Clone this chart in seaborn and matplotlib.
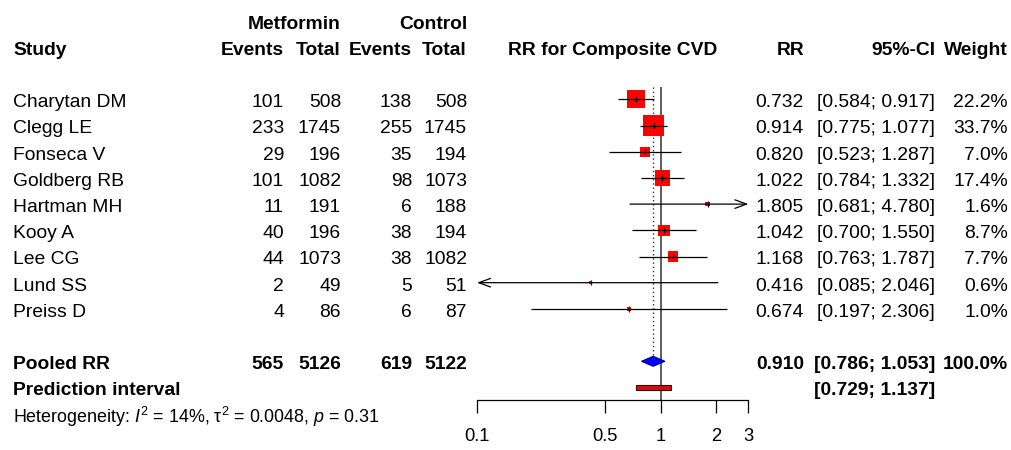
import matplotlib
matplotlib.use("Agg")
import matplotlib.pyplot as plt
from matplotlib.ticker import NullLocator
import seaborn as sns
import pandas as pd
import numpy as np

# ---------------- data ----------------
studies = ["Charytan DM", "Clegg LE", "Fonseca V", "Goldberg RB", "Hartman MH",
           "Kooy A", "Lee CG", "Lund SS", "Preiss D"]
met_events = [101, 233, 29, 101, 11, 40, 44, 2, 4]
met_total = [508, 1745, 196, 1082, 191, 196, 1073, 49, 86]
ctl_events = [138, 255, 35, 98, 6, 38, 38, 5, 6]
ctl_total = [508, 1745, 194, 1073, 188, 194, 1082, 51, 87]
rr = [0.732, 0.914, 0.820, 1.022, 1.805, 1.042, 1.168, 0.416, 0.674]
ci_low = [0.584, 0.775, 0.523, 0.784, 0.681, 0.700, 0.763, 0.085, 0.197]
ci_high = [0.917, 1.077, 1.287, 1.332, 4.780, 1.550, 1.787, 2.046, 2.306]
weight = [22.2, 33.7, 7.0, 17.4, 1.6, 8.7, 7.7, 0.6, 1.0]

pooled_met_events, pooled_met_total = 565, 5126
pooled_ctl_events, pooled_ctl_total = 619, 5122
pooled_rr, pooled_low, pooled_high = 0.910, 0.786, 1.053
pooled_weight = 100.0
pred_low, pred_high = 0.729, 1.137
het_text = r"Heterogeneity: $I^2$ = 14%, τ$^2$ = 0.0048, $p$ = 0.31"

xticks = [0.1, 0.5, 1, 2, 3]
xtick_labels = ["0.1", "0.5", "1", "2", "3"]
xlim = (0.1, 3)

df = pd.DataFrame(dict(study=studies, rr=rr, lo=ci_low, hi=ci_high, w=weight))
df["row"] = np.arange(len(df)) + 3

# ---------------- style ----------------
sns.set_style("white")
plt.rcParams["font.family"] = ["Liberation Sans", "DejaVu Sans"]
plt.rcParams["mathtext.fontset"] = "custom"
plt.rcParams["mathtext.rm"] = "Liberation Sans"
plt.rcParams["mathtext.it"] = "Liberation Sans:italic"
plt.rcParams["mathtext.bf"] = "Liberation Sans:bold"
plt.rcParams["text.color"] = "black"
plt.rcParams["xtick.color"] = "black"
plt.rcParams["axes.edgecolor"] = "black"

FS = 13.9
W, H = 1011, 450
ROW0_PX, ROW_PX = 20.7, 26.2


def k_of_px(p):
    return (p - ROW0_PX) / ROW_PX


fig = plt.figure(figsize=(W / 100, H / 100), dpi=100)
fig.patch.set_facecolor("white")

# text axes (whole figure, x in pixels, y in rows)
tx = fig.add_axes([0, 0, 1, 1])
tx.set_xlim(0, W)
tx.set_ylim(k_of_px(H), k_of_px(0))
tx.axis("off")

# forest axes
AX_PX = 400
fx = fig.add_axes([477 / W, (H - AX_PX) / H, 271.4 / W, AX_PX / H])
fx.set_xscale("log")
fx.set_xlim(*xlim)
fx.set_ylim(k_of_px(AX_PX), k_of_px(0))
fx.patch.set_alpha(0)
for s in ["top", "left", "right"]:
    fx.spines[s].set_visible(False)
fx.spines["bottom"].set_linewidth(0.9)
fx.spines["bottom"].set_color("black")
fx.set_yticks([])
fx.set_xticks(xticks)
fx.set_xticklabels(xtick_labels)
fx.xaxis.set_minor_locator(NullLocator())
fx.tick_params(axis="x", direction="out", length=9.1, width=0.9, pad=11,
               labelsize=13.2, bottom=True, colors="black")

OFF = 0.3  # baseline offset (rows)

# ---- headers ----
hb = dict(fontsize=FS, fontweight="bold", va="baseline", color="black")
tx.text(13, 1 + OFF, "Study", ha="left", **hb)
tx.text(341, 0 + OFF, "Metformin", ha="right", **hb)
tx.text(467, 0 + OFF, "Control", ha="right", **hb)
tx.text(284, 1 + OFF, "Events", ha="right", **hb)
tx.text(341, 1 + OFF, "Total", ha="right", **hb)
tx.text(412, 1 + OFF, "Events", ha="right", **hb)
tx.text(467, 1 + OFF, "Total", ha="right", **hb)
tx.text(804, 1 + OFF, "RR", ha="right", **hb)
tx.text(935, 1 + OFF, "95%-CI", ha="right", **hb)
tx.text(1008, 1 + OFF, "Weight", ha="right", **hb)
fx.text(np.sqrt(xlim[0] * xlim[1]), 1 + OFF, "RR for Composite CVD",
        ha="center", **hb)

# ---- study rows ----
nb = dict(fontsize=FS, va="baseline", color="black")
for i, r in df.iterrows():
    k = r["row"] + OFF
    tx.text(13, k, r["study"], ha="left", **nb)
    tx.text(284, k, f"{met_events[i]}", ha="right", **nb)
    tx.text(341, k, f"{met_total[i]}", ha="right", **nb)
    tx.text(412, k, f"{ctl_events[i]}", ha="right", **nb)
    tx.text(467, k, f"{ctl_total[i]}", ha="right", **nb)
    tx.text(804, k, f"{r['rr']:.3f}", ha="right", **nb)
    tx.text(935, k, f"[{r['lo']:.3f}; {r['hi']:.3f}]", ha="right", **nb)
    tx.text(1008, k, f"{r['w']:.1f}%", ha="right", **nb)

# ---- pooled rows ----
kp = 13
tx.text(13, kp + OFF, "Pooled RR", ha="left", **hb)
tx.text(284, kp + OFF, f"{pooled_met_events}", ha="right", **hb)
tx.text(341, kp + OFF, f"{pooled_met_total}", ha="right", **hb)
tx.text(412, kp + OFF, f"{pooled_ctl_events}", ha="right", **hb)
tx.text(467, kp + OFF, f"{pooled_ctl_total}", ha="right", **hb)
tx.text(804, kp + OFF, f"{pooled_rr:.3f}", ha="right", **hb)
tx.text(935, kp + OFF, f"[{pooled_low:.3f}; {pooled_high:.3f}]", ha="right", **hb)
tx.text(1008, kp + OFF, f"{pooled_weight:.1f}%", ha="right", **hb)
kq = 14
tx.text(13, kq + OFF, "Prediction interval", ha="left", **hb)
tx.text(935, kq + OFF, f"[{pred_low:.3f}; {pred_high:.3f}]", ha="right", **hb)
tx.text(13, 15.07 + OFF, het_text, ha="left", va="baseline", fontsize=12.9,
        color="black")

# ---- forest marks ----
ktop = k_of_px(86.7)
fx.vlines(1, ktop, k_of_px(AX_PX), color="#333333", lw=1.1, zorder=1)
fx.vlines(pooled_rr, ktop, kp - 0.19, color="#333333", lw=1.0,
          linestyles=(0, (1, 2)), zorder=1)

smax = (19.5 * 0.72 * 1.12) ** 2
sns.scatterplot(data=df, x="rr", y="row", size="w", sizes=(0, smax),
                size_norm=(0, max(weight)), marker="s", color="#FF0000",
                edgecolor="none", linewidth=0, legend=False, ax=fx, zorder=2)
fx.set_xlabel("")
fx.set_ylabel("")

for _, r in df.iterrows():
    k = r["row"]
    lo, hi = r["lo"], r["hi"]
    lo_c, hi_c = max(lo, xlim[0]), min(hi, xlim[1])
    if hi > xlim[1]:
        fx.annotate("", xy=(xlim[1], k), xytext=(lo_c, k), annotation_clip=False,
                    arrowprops=dict(arrowstyle="->,head_length=0.6,head_width=0.22",
                                    lw=0.9, color="black", shrinkA=0, shrinkB=0,
                                    mutation_scale=14), zorder=3)
    elif lo < xlim[0]:
        fx.annotate("", xy=(xlim[0], k), xytext=(hi_c, k), annotation_clip=False,
                    arrowprops=dict(arrowstyle="->,head_length=0.6,head_width=0.22",
                                    lw=0.9, color="black", shrinkA=0, shrinkB=0,
                                    mutation_scale=14), zorder=3)
    else:
        fx.hlines(k, lo_c, hi_c, color="black", lw=0.9, zorder=3)
    fx.vlines(r["rr"], k - 0.1, k + 0.1, color="black", lw=0.9, zorder=3)

# diamond
dh = 0.19
fx.fill([pooled_low, pooled_rr, pooled_high, pooled_rr],
        [kp, kp - dh, kp, kp + dh], facecolor="#0000FF", edgecolor="#000080",
        lw=0.8, zorder=4)
# prediction interval
ph = 0.095
fx.fill([pred_low, pred_high, pred_high, pred_low],
        [kq - ph, kq - ph, kq + ph, kq + ph], facecolor="#CC1111",
        edgecolor="#400000", lw=0.8, zorder=4)

fig.savefig("out.png", dpi=100, facecolor="white")
